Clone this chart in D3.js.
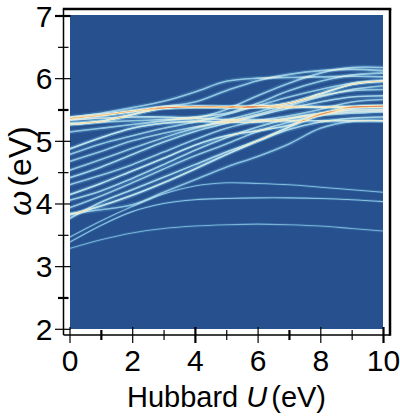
<!DOCTYPE html>
<html>
<head>
<meta charset="utf-8">
<script src="https://cdn.jsdelivr.net/npm/d3@7"></script>
<style>
html,body{margin:0;padding:0;background:#fff}
svg{display:block}
text{font-family:"Liberation Sans",Arial,sans-serif;fill:#000}
</style>
</head>
<body>
<svg id="chart" width="400" height="416"></svg>
<script>
// Hubbard U grid (eV) on which each excitation energy is listed
const hubbardU = [0,1,2,3,4,5,6,7,8,9,10];

// Excitation energies omega (eV), one array per band
const band01 = [3.28,3.42,3.53,3.60,3.64,3.66,3.67,3.66,3.64,3.60,3.56];
const band02 = [3.38,3.65,3.87,4.00,4.06,4.08,4.09,4.09,4.08,4.06,4.03];
const band03 = [3.46,3.72,3.95,4.15,4.28,4.33,4.32,4.30,4.26,4.22,4.18];
const band04 = [3.84,3.90,3.98,4.18,4.38,4.58,4.75,4.95,5.20,5.31,5.32];
const band05 = [3.76,4.02,4.22,4.42,4.62,4.82,5.00,5.18,5.30,5.36,5.38];
const band06 = [3.93,4.12,4.33,4.55,4.76,4.95,5.15,5.30,5.40,5.44,5.46];
const band07 = [4.05,4.20,4.40,4.62,4.85,5.05,5.22,5.35,5.42,5.46,5.48];
const band08 = [4.14,4.32,4.52,4.72,4.93,5.08,5.16,5.25,5.42,5.53,5.55];
const band09 = [4.30,4.45,4.62,4.82,5.02,5.20,5.32,5.40,5.50,5.62,5.66];
const band10 = [4.41,4.58,4.78,4.98,5.15,5.28,5.40,5.52,5.62,5.70,5.72];
const band11 = [4.53,4.70,4.88,5.05,5.20,5.33,5.46,5.60,5.72,5.80,5.82];
const band12 = [4.67,4.83,5.00,5.12,5.22,5.30,5.42,5.56,5.70,5.82,5.88];
const band13 = [4.78,4.95,5.08,5.20,5.30,5.42,5.56,5.70,5.82,5.92,5.96];
const band14 = [4.87,5.05,5.20,5.28,5.31,5.30,5.30,5.36,5.44,5.49,5.50];
const band15 = [5.14,5.20,5.26,5.32,5.38,5.44,5.60,5.80,5.95,6.05,6.08];
const band16 = [5.28,5.30,5.32,5.34,5.36,5.50,5.72,5.92,6.08,6.17,6.17];
const band17 = [5.33,5.36,5.38,5.38,5.36,5.34,5.33,5.32,5.32,5.32,5.32];
const band18 = [5.36,5.41,5.47,5.53,5.54,5.54,5.54,5.54,5.54,5.54,5.55];
const band19 = [5.38,5.44,5.53,5.63,5.78,5.95,6.00,6.01,6.02,6.03,6.02];
const band20 = [5.35,5.40,5.48,5.55,5.62,5.80,5.96,6.06,6.12,6.14,6.12];
const band21 = [5.26,5.31,5.42,5.52,5.545,5.54,5.545,5.60,5.75,5.90,5.95];
const band22 = [3.82,3.96,4.13,4.33,4.55,4.78,5.00,5.22,5.42,5.54,5.56];
const bands = [band01,band02,band03,band04,band05,band06,band07,band08,band09,band10,band11,
               band12,band13,band14,band15,band16,band17,band18,band19,band20,band21,band22];

// Relative spectral weight of each band
const weights = [.22,.26,.24,.26,.32,.28,.30,.38,.28,.32,.28,.28,.28,.40,.28,.28,.36,.62,.28,.28,.54,.40];

// Tick positions and labels
const xTicks = [0,1,2,3,4,5,6,7,8,9,10];
const yTicks = [2,2.5,3,3.5,4,4.5,5,5.5,6,6.5,7];
const xHeavy = [1,4,7,10];
const yHeavy = [2.5,5.5,7];

// Colour ramp of the spectral intensity, from no weight to full weight
const ramp = ["#27508f","#3a6ca5","#5c96c5","#86bcd9","#add6e6","#d0e6e6",
              "#eaeed8","#f5e6bd","#f4c58c","#e3875a","#c8402f"];

const svg = d3.select("#chart");
const x = d3.scaleLinear().domain([0,10]).range([69.5,383]);
const y = d3.scaleLinear().domain([2,7]).range([328.8,15.5]);
const frame = {left:63.5, top:9, right:390, bottom:335};

// The intensity map: strokes accumulate in alpha and the filter recolours alpha through the ramp
const defs = svg.append("defs");
const filter = defs.append("filter").attr("id","intensity")
  .attr("filterUnits","userSpaceOnUse")
  .attr("x",x(0)+.5).attr("y",y(7)).attr("width",x(10)-x(0)-.5).attr("height",y(2)-y(7))
  .attr("color-interpolation-filters","sRGB");
filter.append("feGaussianBlur").attr("stdDeviation",0.65);
filter.append("feColorMatrix").attr("type","matrix")
  .attr("values","0 0 0 1 0  0 0 0 1 0  0 0 0 1 0  0 0 0 0 1");
const transfer = filter.append("feComponentTransfer");
const rgb = ramp.map(c => d3.rgb(c));
[["feFuncR","r"],["feFuncG","g"],["feFuncB","b"]].forEach(([tag,ch]) => {
  transfer.append(tag).attr("type","table")
    .attr("tableValues", rgb.map(c => (c[ch]/255).toFixed(3)).join(" "));
});

const line = d3.line()
  .x((d,i) => x(hubbardU[i]))
  .y(d => y(d))
  .curve(d3.curveCatmullRom.alpha(0.5));

// Each band is a soft halo with a sharper crest on top
const map = svg.append("g").attr("filter","url(#intensity)");
const draw = (cls, widthOf, opacityOf) => map.selectAll("path." + cls).data(bands).join("path")
  .attr("class",cls)
  .attr("d", line)
  .attr("fill","none")
  .attr("stroke","#fff")
  .attr("stroke-width",widthOf)
  .attr("stroke-opacity",opacityOf);
draw("halo",(d,i) => i < 3 ? 2.8 : 4.4,(d,i) => weights[i]*0.32);
draw("crest",(d,i) => i < 3 ? 1.1 : 1.6,(d,i) => weights[i]);

// Frame: heavier on the top and right, lighter on the axis sides
const lines = svg.append("g").attr("stroke","#000").attr("fill","none");
lines.append("line").attr("x1",frame.left-.7).attr("x2",frame.right+1.3).attr("y1",frame.top).attr("y2",frame.top).attr("stroke-width",2.5);
lines.append("line").attr("x1",frame.right).attr("x2",frame.right).attr("y1",frame.top).attr("y2",frame.bottom+.7).attr("stroke-width",2.5);

// Axes
const xAxis = svg.append("g").attr("transform",`translate(0,${frame.bottom})`)
  .call(d3.axisBottom(x).tickValues(xTicks).tickSizeOuter(0).tickFormat(d => d % 2 === 0 ? d : ""));
const yAxis = svg.append("g").attr("transform",`translate(${frame.left},0)`)
  .call(d3.axisLeft(y).tickValues(yTicks).tickSizeOuter(0).tickFormat(d => Number.isInteger(d) ? d : ""));

xAxis.select(".domain").attr("d",`M${frame.left},0H${frame.right}`).attr("stroke","#000").attr("stroke-width",1.5);
yAxis.select(".domain").attr("d",`M0,${frame.top}V${frame.bottom}`).attr("stroke","#000").attr("stroke-width",1.5);

xAxis.selectAll(".tick line")
  .attr("y1",d => d % 2 === 0 ? -8 : -5)
  .attr("y2",d => d % 2 === 0 ? 8 : 5)
  .attr("stroke","#000")
  .attr("stroke-width",d => xHeavy.includes(d) ? 2.2 : 1.2);
yAxis.selectAll(".tick line")
  .attr("x1",d => Number.isInteger(d) ? -8.5 : -5.5)
  .attr("x2",d => Number.isInteger(d) ? 7 : 5)
  .attr("stroke","#000")
  .attr("stroke-width",d => yHeavy.includes(d) ? 2.2 : 1.2);

xAxis.selectAll(".tick text")
  .attr("y",36).attr("dy",0)
  .attr("font-size",30).attr("font-family",'"Liberation Sans",Arial,sans-serif')
  .attr("text-anchor","middle");
yAxis.selectAll(".tick text")
  .attr("x",-11).attr("dy","0.35em")
  .attr("font-size",30).attr("font-family",'"Liberation Sans",Arial,sans-serif')
  .attr("text-anchor","end");

// Axis titles
const xTitle = svg.append("text").attr("x",226.5).attr("y",407).attr("text-anchor","middle").attr("font-size",29);
xTitle.append("tspan").text("Hubbard ");
xTitle.append("tspan").attr("font-style","italic").text("U");
xTitle.append("tspan").attr("dx",4).text("(eV)");

const yTitle = svg.append("text").attr("transform","translate(31,171) rotate(-90)")
  .attr("text-anchor","middle").attr("font-size",32);
yTitle.append("tspan").attr("font-style","italic").text("ω");
yTitle.append("tspan").attr("dx",4).text("(eV)");
</script>
</body>
</html>
